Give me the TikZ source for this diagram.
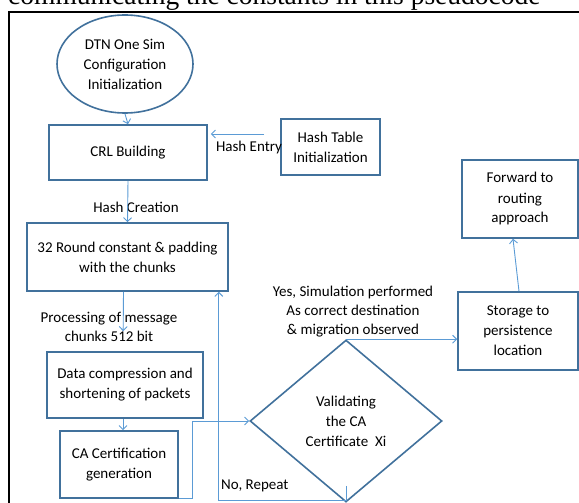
\documentclass[tikz,border=0pt]{standalone}
\usepackage{fontspec}
\setmainfont{Carlito}
\newfontfamily\titlefont{Liberation Serif}
\usetikzlibrary{shapes.geometric,arrows.meta}
\definecolor{boxblue}{RGB}{65,113,156}
\definecolor{lineblue}{RGB}{91,155,213}
\begin{document}
\begin{tikzpicture}[x=1pt,y=-1pt,
    every node/.style={font=\fontsize{15}{20}\selectfont, align=center, inner sep=0pt},
    box/.style={draw=boxblue, line width=1.6pt, rectangle},
    flow/.style={draw=lineblue, line width=0.9pt, -{Straight Barb[length=4pt,width=8pt]}},
    lbl/.style={font=\fontsize{15}{19}\selectfont}]
    % page size and clip
    \useasboundingbox (0,0) rectangle (579,503);
    \clip (0,0) rectangle (579,503);
    
    % text of the page above the figure, cut off
    \node[anchor=base west, font=\titlefont\fontsize{27.5}{27.5}\selectfont] (title) at (8,5) {communicating the constants in this pseudocode};
    \draw[line width=2.4pt] (9,700) -- (9,12) -- (700,12);
    
    % Blocks of the flow
    \node[ellipse, draw=boxblue, line width=1.6pt, minimum width=136, minimum height=98] (start) at (125,64) {DTN One Sim\\Configuration\\Initialization};
    \node[box, minimum width=158, minimum height=55] (crl) at (128,152.5) {CRL Building};
    \node[box, minimum width=99, minimum height=56] (hashtab) at (330.5,147) {Hash Table\\Initialization};
    \node[box, minimum width=201, minimum height=68] (round) at (127.5,257) {32 Round constant \& padding\\with the chunks};
    \node[box, minimum width=156, minimum height=66] (compress) at (125,385) {Data compression and\\shortening of packets};
    \node[box, minimum width=118, minimum height=67] (cert) at (119,464.5) {CA Certification\\generation};
    \node[diamond, draw=boxblue, line width=1.6pt, minimum width=192, minimum height=162] (valid) at (346,421) {Validating\\the CA\\Certificate\ \ Xi};
    \node[box, minimum width=120, minimum height=78] (storage) at (518,331) {Storage to\\persistence\\location};
    \node[box, minimum width=116, minimum height=78] (fwd) at (520,199) {Forward to\\routing\\approach};
    
    % Labels on the connectors
    \node[lbl] (entrylbl) at (249,148) {Hash Entry};
    \node[lbl] (creationlbl) at (136,207) {Hash Creation};
    \node[lbl] (processlbl) at (109,327) {Processing of message\\chunks 512 bit};
    \node[lbl] (yeslbl) at (353,312) {Yes, Simulation performed\\As correct destination\\\& migration observed};
    \node[lbl, anchor=west] (nolbl) at (221,486) {No, Repeat};
    
    % Connectors
    \draw[flow] (start.south) -- (crl.north);
    \draw[flow] ([xshift=-16pt,yshift=13pt]hashtab.west) -- ([xshift=3pt,yshift=13pt]hashtab.west -| crl.east);
    \draw[flow] (crl.south) -- (round.north);
    \draw[flow, shorten >=20pt] ([xshift=-4pt]round.south) -- ([xshift=-2pt]compress.north);
    \draw[flow] ([xshift=-2pt]compress.south) -- ([xshift=-2pt]compress.south |- cert.north);
    \draw[flow] (cert.south east) -- ++(14,0) |- (valid.west);
    \draw[flow] (valid.north) -- (valid.north -| storage.west);
    \draw[flow] ([xshift=1pt]storage.north) -- ([xshift=-7pt]fwd.south);
    \draw[flow] ([yshift=17pt]valid.south) -- ([yshift=2pt]valid.south) -| ([xshift=-10pt]round.south east);
\end{tikzpicture}
\end{document}
